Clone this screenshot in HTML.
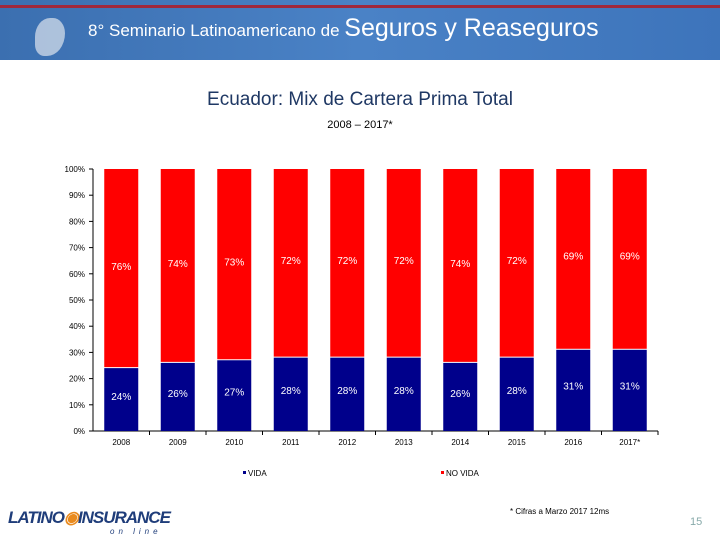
<!DOCTYPE html>
<html><head><meta charset="utf-8"><style>
body{margin:0;width:720px;height:540px;background:#fff;overflow:hidden;position:relative;font-family:"Liberation Sans",sans-serif}
.t{position:absolute;left:0;width:720px;text-align:center}
</style></head><body>
<div style="position:absolute;left:0;top:0;width:720px;height:60px;background:linear-gradient(90deg,#3b6fb0,#4a82c6 50%,#3d74bb)">
<div style="position:absolute;left:0;top:5px;width:720px;height:3px;background:#a0283c"></div>
<div style="position:absolute;left:35px;top:18px;width:30px;height:38px;background:#c9d6e6;border-radius:50% 40% 60% 30%;opacity:.8"></div>
<div style="position:absolute;left:88px;top:14px;color:#fff;white-space:nowrap"><span style="font-size:17px">8° Seminario Latinoamericano de </span><span style="font-size:25px">Seguros y Reaseguros</span></div>
</div>
<div class="t" style="top:89px;font-size:19px;color:#1f3864">Ecuador: Mix de Cartera Prima Total</div>
<div class="t" style="top:119px;font-size:11px">2008 – 2017*</div>
<svg id="c" width="720" height="540" style="position:absolute;left:0;top:0"></svg>
<div style="position:absolute;left:510px;top:507px;font-size:8px">* Cifras a Marzo 2017 12ms</div>
<div style="position:absolute;left:690px;top:516px;font-size:11px;color:#8aa">15</div>
<div style="position:absolute;left:8px;top:508px;font-size:17px;font-weight:bold;font-style:italic;color:#1f3d7a;letter-spacing:-1px">LATINO<span style="color:#e98a1e">◉</span>INSURANCE</div>
<div style="position:absolute;left:110px;top:527px;font-size:8px;color:#1f3d7a;letter-spacing:4px;font-style:italic">on line</div>
<script>
const years=["2008","2009","2010","2011","2012","2013","2014","2015","2016","2017*"];
const vida=[24,26,27,28,28,28,26,28,31,31];
const novida=[76,74,73,72,72,72,74,72,69,69];
const yTicks=[0,10,20,30,40,50,60,70,80,90,100];
const svg=document.getElementById('c'),NS='http://www.w3.org/2000/svg';
const x0=93,slot=56.5,bw=34,y0=431,yh=262;
const Y=v=>y0-v/100*yh;
function mk(t,a,txt){const e=document.createElementNS(NS,t);for(const k in a)e.setAttribute(k,a[k]);if(txt!=null)e.textContent=txt;svg.appendChild(e);return e;}
let e=mk('line',{x1:x0,y1:Y(0),x2:x0,y2:Y(100),stroke:'#000'});

e=mk('line',{x1:x0,y1:y0,x2:x0+slot*years.length,y2:y0,stroke:'#000'});

yTicks.forEach(v=>{mk('line',{x1:x0-4,x2:x0,y1:Y(v),y2:Y(v),stroke:'#000'});
e=mk('text',{x:x0-8,y:Y(v)+3,'font-size':8,'text-anchor':'end'},v+'%');
});
years.forEach((yr,i)=>{const cx=x0+slot*(i+0.5),bx=cx-bw/2;
mk('line',{x1:x0+slot*(i+1),x2:x0+slot*(i+1),y1:y0,y2:y0+4,stroke:'#000'});
e=mk('rect',{x:bx,y:Y(vida[i]),width:bw,height:vida[i]/100*yh,fill:'#00008b'});

e=mk('rect',{x:bx,y:Y(100),width:bw,height:novida[i]/100*yh-1,fill:'#f00'});

e=mk('text',{x:cx,y:400-(vida[i]-24)*1.5,'font-size':10,fill:'#fff','text-anchor':'middle'},vida[i]+'%');

e=mk('text',{x:cx,y:270-(vida[i]-24)*1.5,'font-size':10,fill:'#fff','text-anchor':'middle'},novida[i]+'%');

e=mk('text',{x:cx,y:445,'font-size':8,'text-anchor':'middle'},yr);
});
e=mk('rect',{x:243,y:471,width:3,height:3,fill:'#00008b'});
e=mk('text',{x:248,y:476,'font-size':8},'VIDA');
e=mk('rect',{x:441,y:471,width:3,height:3,fill:'#f00'});
e=mk('text',{x:446,y:476,'font-size':8},'NO VIDA');
</script>
</body></html>
